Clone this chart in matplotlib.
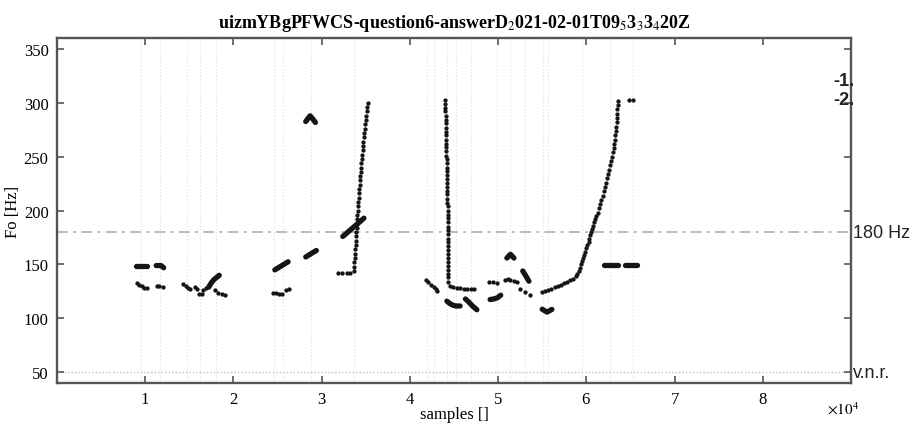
import numpy as np
import matplotlib
matplotlib.use("Agg")
import matplotlib.pyplot as plt
import matplotlib.transforms as mtransforms

TITLE = r"uizmYBgPFWCS-question6-answerD$_2$021-02-01T09$_5$3$_3$3$_4$20Z"
X_LABEL = "samples []"
Y_LABEL = "Fo [Hz]"
REF_LINE = 180
FLOOR_LINE = 50
X_TICKS = [10000, 20000, 30000, 40000, 50000, 60000, 70000, 80000]
Y_TICKS = [50, 100, 150, 200, 250, 300, 350]

# segment boundaries (faint vertical lines), in samples
BOUNDS = [9550, 11650, 14800, 16250, 18000, 24600, 25600, 28800, 33700,
          42000, 42700, 44200, 45200, 46900, 49900, 51400, 53100, 55100,
          55700, 59500, 62700, 65300]

# dotted pitch tracks (x in samples, y in Hz)
dots_x = [
    [9050, 9300, 9600, 9900, 10200],
    [11300, 11600, 12000],
    [14300, 14600, 14900, 15100],
    [15600, 15850, 16100, 16400],
    [16600, 16900],
    [17900, 18300, 18700, 19000],
    [24500, 24800, 25200, 25500, 26000, 26300],
    [31870, 32360, 32850, 33220],
    [33650, 33700, 33720, 33760, 33790, 33820, 33850, 33880, 33900, 33930,
     33960, 33990, 34020, 34060, 34090, 34120, 34150, 34190, 34230, 34270,
     34310, 34350, 34390, 34430, 34470, 34520, 34560, 34600, 34650, 34700,
     34740, 34790, 34840, 34890, 34940, 34990, 35040, 35100, 35160, 35220],
    [41800, 42100, 42400, 42700, 43000, 43100],
    [43950, 44000, 44020, 44040, 44050, 44060, 44070, 44080, 44090, 44100,
     44110, 44120, 44130, 44140, 44150, 44160, 44170, 44180, 44190, 44200,
     44210, 44220, 44230, 44240, 44250, 44260, 44260, 44270, 44270, 44280,
     44280, 44290, 44290, 44300, 44300, 44310, 44310, 44320, 44320, 44330,
     44330, 44340, 44340, 44350, 44350, 44350, 44350],
    [44500, 44900, 45300, 45700, 46100, 46500, 46900, 47300],
    [49000, 49400, 49900],
    [50800, 51100, 51400, 51800, 52100],
    [52500, 53000, 53600],
    [55000, 55350, 55700, 56050, 56400, 56750, 57100, 57450, 57800, 58150,
     58500, 58850],
    [59000, 59120, 59250, 59370, 59500, 59630, 59750, 59880, 60000, 60130,
     60250, 60360, 60470, 60580, 60700, 60810, 60920, 61030, 61150, 61270,
     61420, 61570, 61720, 61860, 61990, 62120, 62250, 62380, 62500, 62620,
     62730, 62840, 62950, 63030, 63110, 63180, 63240, 63300, 63350, 63400,
     63440, 63470, 63500, 63520, 63540, 63560],
    [64800, 65350],
]
dots_y = [
    [133, 131, 130, 128.5, 128],
    [130, 130, 129],
    [132, 130, 128, 127],
    [129, 127, 123, 123],
    [126, 128],
    [126, 124, 123, 122],
    [124, 124, 123, 123, 126, 127],
    [142, 142, 142, 142.5],
    [144, 148, 152, 156, 160, 164, 168, 172, 176, 180, 184, 188, 192, 196,
     200, 204, 208, 212, 216, 220, 224, 228, 232, 236, 240, 244, 248, 252,
     256, 260, 264, 268, 272, 276, 280, 284, 288, 292, 296, 300],
    [135.5, 133.5, 131, 129, 127, 125],
    [303, 299, 295, 292, 288, 284, 281, 277, 273, 270, 266, 262, 259, 255,
     251, 248, 244, 240, 237, 233, 229, 226, 222, 218, 215, 211, 207, 204,
     200, 196, 193, 189, 185, 182, 178, 174, 171, 167, 163, 160, 156, 152,
     149, 145, 141, 138, 134],
    [130, 129, 128.5, 128, 127.5, 127, 127, 127],
    [134, 133.5, 133],
    [136, 136.5, 136, 135, 134],
    [127, 124.5, 121.5],
    [124.4, 125.5, 126.5, 127.6, 128.8, 130, 131.3, 132.6, 134, 135.5, 137,
     139.5],
    [141, 144, 147, 150, 153, 156, 159, 162, 165, 168, 171, 174, 177, 180,
     183, 186, 189, 192, 195, 198, 202, 206, 210, 214, 218, 222, 226, 230,
     234, 238, 242, 246, 250, 254, 258, 262, 266, 270, 274, 278, 282, 286,
     290, 294, 298, 302],
    [303, 303],
]

# short solid strokes (dense frames)
dash_x = [
    [9000, 10200],
    [11250, 11800, 12100],
    [17200, 17500, 17800, 18100, 18400],
    [24700, 26200],
    [28200, 29400],
    [28200, 28500, 28700, 29000, 29300],
    [32400, 33600, 34800],
    [44200, 44500, 44800, 45200, 45700],
    [46300, 46700, 47100, 47600],
    [49100, 49500, 49900, 50300],
    [51000, 51400, 51800],
    [52800, 53100, 53500],
    [55000, 55550, 56100],
    [61950, 63650],
    [64400, 65700],
]
dash_y = [
    [149, 149],
    [149, 149, 147],
    [129, 133, 136, 138, 140],
    [145, 152.5],
    [157, 163],
    [282.7, 286, 288, 285, 281.8],
    [176, 184.5, 193],
    [116, 114, 112.5, 111.5, 111.5],
    [118, 115, 111.5, 108],
    [117.5, 118, 119, 121.5],
    [156, 159.5, 156],
    [144, 140, 134.5],
    [108.5, 105.8, 108.3],
    [149.5, 149.5],
    [149.5, 149.5],
]

plt.rcParams["font.family"] = ["Liberation Serif", "DejaVu Serif"]
plt.rcParams["mathtext.fontset"] = "stix"

fig = plt.figure(figsize=(9.18, 4.31), dpi=100)
ax = fig.add_axes([0.062, 0.109, 0.865, 0.8])

for b in BOUNDS:
    ax.axvline(b, color="#dcdcdc", lw=0.8, ls=(0, (1, 2)), zorder=1)
ax.axhline(REF_LINE, color="#b5b5b5", lw=1.3, ls=(0, (6, 3, 1.5, 3)), zorder=1)
ax.axhline(FLOOR_LINE, color="#c0c0c0", lw=1.0, ls=(0, (1, 1.5)), zorder=1)

for xs, ys in zip(dots_x, dots_y):
    ax.plot(xs, ys, "o", color="#151515", ms=3.1, mew=0, zorder=3)
for xs, ys in zip(dash_x, dash_y):
    ax.plot(xs, ys, "-", color="#151515", lw=3.8,
            solid_capstyle="round", zorder=3)

ax.set_xlim(0, 90000)
ax.set_ylim(40, 360)
ax.set_xticks(X_TICKS)
ax.set_yticks(Y_TICKS)
ax.ticklabel_format(axis="x", style="sci", scilimits=(0, 0), useMathText=True)
ax.xaxis.get_offset_text().set_visible(False)
ax.tick_params(direction="in", top=True, right=True, length=5, width=1.2,
               color="#555555", labelsize=12, pad=6)
for s in ax.spines.values():
    s.set_color("#555555")
    s.set_linewidth(1.7)

ax.set_xlabel(X_LABEL, fontsize=12, labelpad=-1)
ax.set_ylabel(Y_LABEL, fontsize=12, labelpad=2)
ax.set_title(TITLE, fontsize=13, fontweight="bold", pad=8)
ax.text(0.99, -0.075, r"$\times10^4$", transform=ax.transAxes,
        ha="center", va="center", fontsize=11)

trans = mtransforms.blended_transform_factory(ax.transAxes, ax.transData)
side = dict(family=["Liberation Sans", "DejaVu Sans"], fontsize=13,
            transform=trans, va="center", color="#222222")
ax.text(1.002, REF_LINE, "180 Hz", ha="left", **side)
ax.text(1.002, FLOOR_LINE, "v.n.r.", ha="left", **side)
ax.text(1.005, 321, "-1.", ha="right", fontweight="bold", **side)
ax.text(1.005, 303, "-2.", ha="right", fontweight="bold", **side)

fig.savefig("out.png", dpi=100)
